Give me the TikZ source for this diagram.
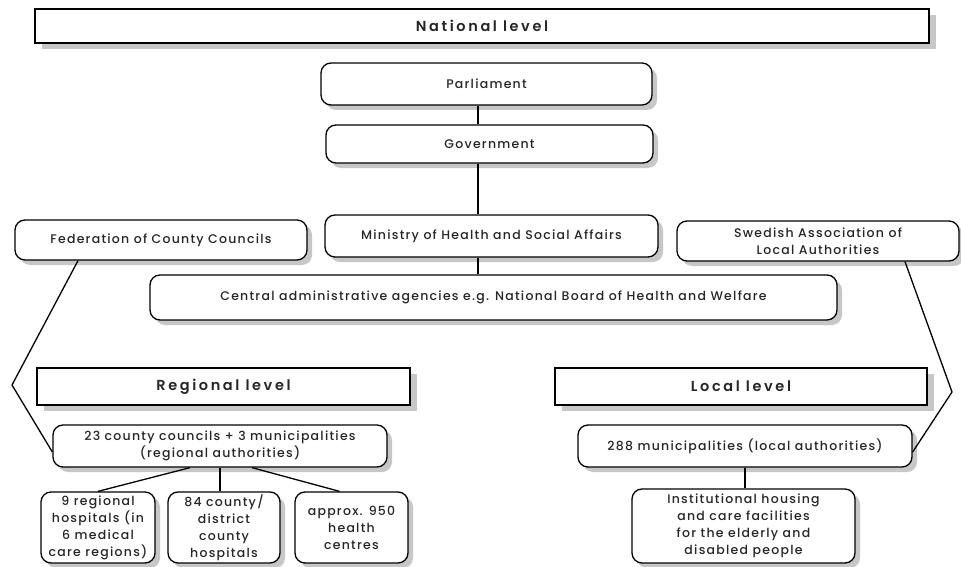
\documentclass[tikz,border=0pt]{standalone}
\usepackage{fontspec}
\setmainfont{Poppins}
\newfontfamily\boxfont[LetterSpace=10]{Poppins Medium}
\newfontfamily\lvlfont[LetterSpace=18]{Poppins SemiBold}
\usetikzlibrary{shadows}
\begin{document}
\begin{tikzpicture}[x=1pt,y=-1pt,
  sh/.style={drop shadow={shadow xshift=5pt, shadow yshift=-5pt, fill=black!22, opacity=1}},
  lvl/.style={draw, line width=1.6pt, fill=white, inner sep=0pt, text=black!85, drop shadow={shadow xshift=7pt, shadow yshift=-6pt, fill=black!22, opacity=1}, font=\lvlfont\fontsize{14.5}{16}\selectfont},
  rbox/.style={draw, line width=1.3pt, rounded corners=10pt, sh, fill=white, inner sep=0pt, align=center, text=black!85, font=\boxfont\fontsize{12.5}{17}\selectfont},
  conn/.style={line width=1.3pt}]
\useasboundingbox (0,0) rectangle (961,567);
\fill[white] (0,0) rectangle (961,567);
\node[lvl, minimum width=894pt, minimum height=34pt] (nat) at (482,26) {National level};
\node[rbox, minimum width=331pt, minimum height=42pt] (parl) at (486.5,84) {Parliament};
\node[rbox, minimum width=327pt, minimum height=38pt] (gov) at (489.5,144) {Government};
\node[rbox, minimum width=292pt, minimum height=40pt] (fed) at (161,240) {Federation of County Councils};
\node[rbox, minimum width=333pt, minimum height=42pt] (min) at (491.5,236) {Ministry of Health and Social Affairs};
\node[rbox, minimum width=282pt, minimum height=40pt] (swe) at (818,241) {Swedish Association of\\Local Authorities};
\node[rbox, minimum width=687pt, minimum height=45pt] (cen) at (493.5,297.5) {Central administrative agencies e.g. National Board of Health and Welfare};
\node[lvl, minimum width=373pt, minimum height=37pt] (reg) at (223.5,386.5) {Regional level};
\node[lvl, minimum width=372pt, minimum height=37pt] (loc) at (741,386.5) {Local level};
\node[rbox, minimum width=334pt, minimum height=42pt] (cc) at (220,446) {23 county councils + 3 municipalities\\(regional authorities)};
\node[rbox, minimum width=334pt, minimum height=42pt] (mun) at (745,446) {288 municipalities (local authorities)};
\node[rbox, minimum width=114pt, minimum height=71pt] (h1) at (98,527.5) {9 regional\\hospitals (in\\6 medical\\care regions)};
\node[rbox, minimum width=112pt, minimum height=71pt] (h2) at (224,527.5) {84 county/\\district\\county\\hospitals};
\node[rbox, minimum width=113pt, minimum height=71pt] (h3) at (351.5,527.5) {approx. 950\\health\\centres};
\node[rbox, minimum width=223pt, minimum height=74pt] (inst) at (743.5,526) {Institutional housing\\and care facilities\\for the elderly and\\disabled people};
\coordinate (spine) at (478,0);
\coordinate (lb) at (12,385);
\coordinate (rb) at (952,392);
\draw[conn] (parl.south -| spine) -- (gov.north -| spine);
\draw[conn] (gov.south -| spine) -- (min.north -| spine);
\draw[conn] (min.south -| spine) -- (cen.north -| spine);
\draw[conn] ([xshift=-83pt]fed.south) -- (lb) -- ([yshift=-6pt]cc.west);
\draw[conn] ([xshift=87pt]swe.south) -- (rb) -- ([yshift=-6pt]mun.east);
\draw[conn] (cc.south) -- (cc.south |- h2.north);
\draw[conn] ([xshift=-30pt]cc.south) -- (h1.north);
\draw[conn] ([xshift=32pt]cc.south) -- ([xshift=-12pt]h3.north);
\draw[conn] (mun.south) -- (mun.south |- inst.north);
\end{tikzpicture}
\end{document}
